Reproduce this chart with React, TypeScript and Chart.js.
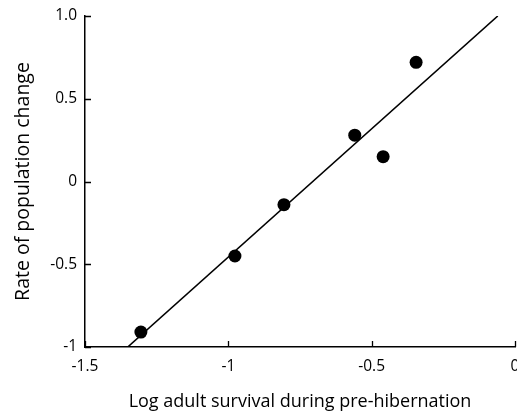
import React, { useEffect, useRef } from "react";
import { Chart, registerables } from "chart.js";

Chart.register(...registerables);

// Observed years: log adult survival (x) vs. rate of population change (y)
const survivalLog = [-1.305, -0.977, -0.806, -0.559, -0.46, -0.345];
const populationChange = [-0.91, -0.45, -0.14, 0.28, 0.15, 0.72];

// Fitted regression line end points
const fitX = [-1.351, -0.06];
const fitY = [-1.0, 1.0];

const xTickValues = [-1.5, -1, -0.5, 0];
const xTickLabels = ["-1.5", "-1", "-0.5", "0"];
const yTickValues = [-1, -0.5, 0, 0.5, 1];
const yTickLabels = ["-1", "-0.5", "0", "0.5", "1.0"];

const FONT = "'Open Sans', 'DejaVu Sans', sans-serif";

// Short tick marks pointing into the plot area
const inwardTicks = {
  id: "inwardTicks",
  afterDraw(chart: any) {
    const { ctx, chartArea, scales } = chart;
    ctx.save();
    ctx.strokeStyle = "#000";
    ctx.lineWidth = 1.3;
    ctx.beginPath();
    for (const v of yTickValues) {
      const py = Math.round(scales.y.getPixelForValue(v)) + 0.5;
      ctx.moveTo(chartArea.left, py);
      ctx.lineTo(chartArea.left + 6, py);
    }
    for (const v of xTickValues) {
      const px = Math.round(scales.x.getPixelForValue(v)) + 0.5;
      ctx.moveTo(px, chartArea.bottom);
      ctx.lineTo(px, chartArea.bottom - 6);
    }
    ctx.stroke();
    ctx.restore();
  },
};

export default function App() {
  const canvasRef = useRef<HTMLCanvasElement | null>(null);

  useEffect(() => {
    const canvas = canvasRef.current;
    if (!canvas) return;
    const points = survivalLog.map((x, i) => ({ x, y: populationChange[i] }));
    const fit = fitX.map((x, i) => ({ x, y: fitY[i] }));

    const chart = new Chart(canvas, {
      type: "scatter",
      data: {
        datasets: [
          {
            type: "line",
            data: fit,
            borderColor: "#000",
            borderWidth: 1.6,
            pointRadius: 0,
            fill: false,
            order: 2,
          } as any,
          {
            data: points,
            backgroundColor: "#000",
            borderColor: "#000",
            borderWidth: 0,
            pointRadius: 6.5,
            order: 1,
          },
        ],
      },
      options: {
        responsive: false,
        animation: false,
        layout: { autoPadding: false, padding: { top: 16, right: 2, left: 0, bottom: 0 } },
        plugins: {
          legend: { display: false },
          tooltip: { enabled: false },
        },
        scales: {
          x: {
            type: "linear",
            min: -1.5,
            max: 0,
            afterBuildTicks: (scale: any) => {
              scale.ticks = xTickValues.map((value) => ({ value }));
            },
            afterFit: (scale: any) => {
              scale.height = 68;
              scale.paddingLeft = 0;
              scale.paddingRight = 0;
            },
            grid: { display: false, drawTicks: false },
            border: { display: true, color: "#000", width: 1.5 },
            ticks: {
              color: "#000",
              padding: 10,
              font: { family: FONT, size: 15.5 },
              callback: (v: any) => xTickLabels[xTickValues.indexOf(Number(v))] ?? "",
            },
            title: {
              display: true,
              text: "Log adult survival during pre-hibernation",
              color: "#000",
              font: { family: FONT, size: 18 },
              padding: { top: 2, bottom: 2 },
            },
          },
          y: {
            type: "linear",
            min: -1,
            max: 1,
            afterBuildTicks: (scale: any) => {
              scale.ticks = yTickValues.map((value) => ({ value }));
            },
            afterFit: (scale: any) => {
              scale.width = 85;
              scale.paddingTop = 0;
              scale.paddingBottom = 0;
            },
            grid: { display: false, drawTicks: false },
            border: { display: true, color: "#000", width: 1.5 },
            ticks: {
              color: "#000",
              padding: 8,
              font: { family: FONT, size: 15.5 },
              callback: (v: any) => yTickLabels[yTickValues.indexOf(Number(v))] ?? "",
            },
            title: {
              display: true,
              text: "Rate of population change",
              color: "#000",
              font: { family: FONT, size: 19.5 },
              padding: { top: 12, bottom: 0 },
            },
          },
        },
      },
      plugins: [inwardTicks],
    });

    return () => chart.destroy();
  }, []);

  return (
    <div style={{ position: "fixed", left: 0, top: 0, width: 517, height: 415, background: "#fff" }}>
      <canvas ref={canvasRef} width={517} height={415} />
    </div>
  );
}
